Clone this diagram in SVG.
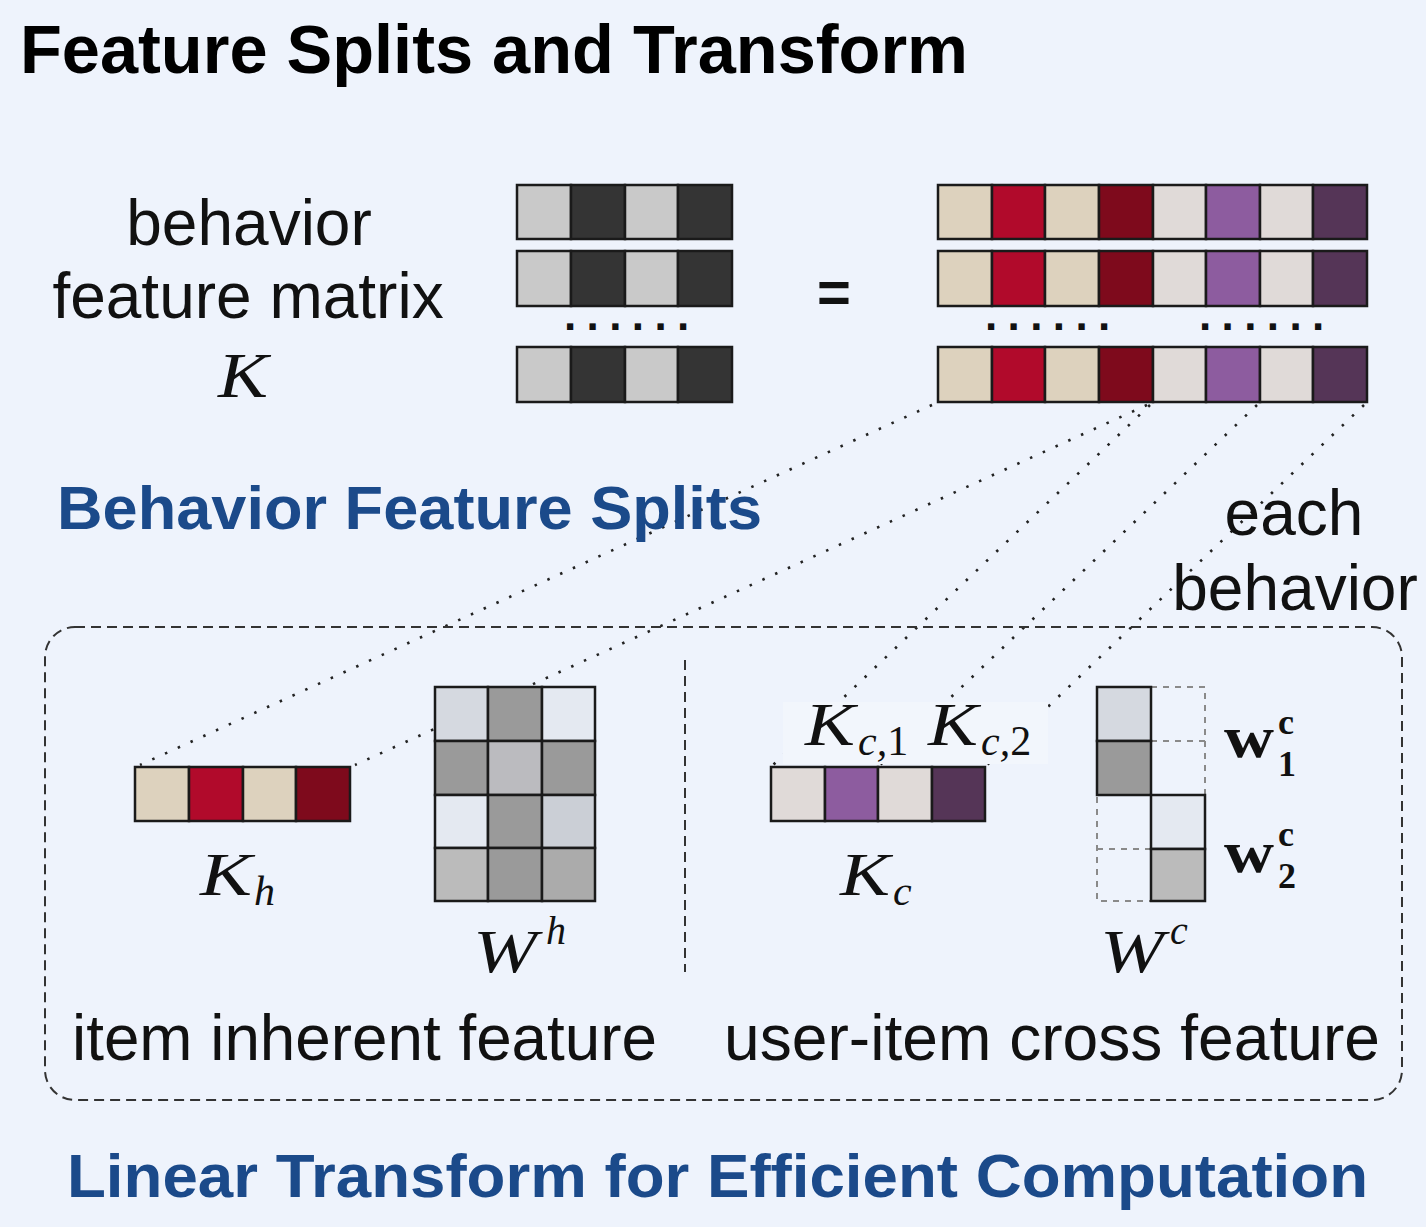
<svg xmlns="http://www.w3.org/2000/svg" width="1426" height="1227" viewBox="0 0 1426 1227">
<style>
.sans{font-family:"Liberation Sans",Arial,sans-serif;}
.lbl{font-family:"Liberation Sans",Arial,sans-serif;font-size:64px;fill:#111;}
.ttl{font-family:"Liberation Sans",Arial,sans-serif;font-weight:bold;}
.blue{fill:#1B4A8A;}
.math{font-family:"Liberation Serif","Times New Roman",serif;font-style:italic;fill:#111;}
.up{font-style:normal;}
.bmath{font-family:"Liberation Serif","Times New Roman",serif;font-weight:bold;fill:#111;}
.cell{stroke:#1a1a1a;stroke-width:2.5;}
.dot{stroke:#222;stroke-width:2.6;stroke-dasharray:2.5 11.5;fill:none;}
.dash{stroke:#333;stroke-width:2;stroke-dasharray:10 6;fill:none;}
.gdash{stroke:#8a8a8a;stroke-width:2;stroke-dasharray:6 6;fill:none;}
.ell{font-family:"Liberation Sans",Arial,sans-serif;font-weight:bold;font-size:44px;letter-spacing:10.4px;fill:#111;}
.lg{fill:#C9C9C9;} .dk{fill:#343434;}
.be{fill:#DDD2BE;} .cr{fill:#B10A2B;} .dr{fill:#7E0A1C;}
.lp{fill:#E0DAD8;} .pu{fill:#8D5C9F;} .dp{fill:#553557;}
</style>
<rect width="1426" height="1227" fill="#EEF3FC"/>

<text class="ttl" x="20" y="73" font-size="68" fill="#000" textLength="948" lengthAdjust="spacingAndGlyphs">Feature Splits and Transform</text>

<g id="label-K">
<text class="lbl" x="249" y="245" text-anchor="middle">behavior</text>
<text class="lbl" x="248" y="318" text-anchor="middle">feature matrix</text>
<text class="math" x="218" y="397" font-size="64" textLength="50" lengthAdjust="spacingAndGlyphs">K</text>
</g>

<g id="matrix-K">
<g class="cell">
<rect class="lg" x="517" y="185" width="54" height="54"/><rect class="dk" x="571" y="185" width="54" height="54"/><rect class="lg" x="625" y="185" width="53" height="54"/><rect class="dk" x="678" y="185" width="54" height="54"/>
<rect class="lg" x="517" y="251" width="54" height="55"/><rect class="dk" x="571" y="251" width="54" height="55"/><rect class="lg" x="625" y="251" width="53" height="55"/><rect class="dk" x="678" y="251" width="54" height="55"/>
<rect class="lg" x="517" y="347" width="54" height="55"/><rect class="dk" x="571" y="347" width="54" height="55"/><rect class="lg" x="625" y="347" width="53" height="55"/><rect class="dk" x="678" y="347" width="54" height="55"/>
</g>
<text class="ell" x="564" y="330">......</text>
</g>

<g id="equals">
<text class="ttl" x="834" y="312" font-size="58" text-anchor="middle" fill="#111">=</text>
</g>

<g id="matrix-split">
<g class="cell">
<rect class="be" x="938" y="185" width="54" height="54"/><rect class="cr" x="992" y="185" width="53" height="54"/><rect class="be" x="1045" y="185" width="54" height="54"/><rect class="dr" x="1099" y="185" width="54" height="54"/><rect class="lp" x="1153" y="185" width="53" height="54"/><rect class="pu" x="1206" y="185" width="54" height="54"/><rect class="lp" x="1260" y="185" width="53" height="54"/><rect class="dp" x="1313" y="185" width="54" height="54"/>
<rect class="be" x="938" y="251" width="54" height="55"/><rect class="cr" x="992" y="251" width="53" height="55"/><rect class="be" x="1045" y="251" width="54" height="55"/><rect class="dr" x="1099" y="251" width="54" height="55"/><rect class="lp" x="1153" y="251" width="53" height="55"/><rect class="pu" x="1206" y="251" width="54" height="55"/><rect class="lp" x="1260" y="251" width="53" height="55"/><rect class="dp" x="1313" y="251" width="54" height="55"/>
<rect class="be" x="938" y="347" width="54" height="55"/><rect class="cr" x="992" y="347" width="53" height="55"/><rect class="be" x="1045" y="347" width="54" height="55"/><rect class="dr" x="1099" y="347" width="54" height="55"/><rect class="lp" x="1153" y="347" width="53" height="55"/><rect class="pu" x="1206" y="347" width="54" height="55"/><rect class="lp" x="1260" y="347" width="53" height="55"/><rect class="dp" x="1313" y="347" width="54" height="55"/>
</g>
<text class="ell" x="985" y="330">......</text>
<text class="ell" x="1199" y="330">......</text>
</g>

<g id="connectors">
<line class="dot" x1="932" y1="405" x2="140" y2="765"/>
<line class="dot" x1="1147" y1="405" x2="355" y2="765"/>
<line class="dot" x1="1150" y1="405" x2="773" y2="765"/>
<line class="dot" x1="1257" y1="405" x2="880" y2="765"/>
<line class="dot" x1="1364" y1="405" x2="987" y2="765"/>
</g>

<text class="ttl blue" x="57" y="529" font-size="62" textLength="705" lengthAdjust="spacingAndGlyphs">Behavior Feature Splits</text>

<g id="each-behavior">
<text class="lbl" x="1294" y="535" text-anchor="middle">each</text>
<text class="lbl" x="1295" y="610" text-anchor="middle">behavior</text>
</g>

<g id="transform-box">
<rect class="dash" x="45" y="627" width="1357" height="473" rx="30" ry="30"/>
<line class="dash" x1="685" y1="660" x2="685" y2="972"/>
</g>

<g id="Kh">
<g class="cell">
<rect class="be" x="135" y="767" width="54" height="54"/><rect class="cr" x="189" y="767" width="54" height="54"/><rect class="be" x="243" y="767" width="53" height="54"/><rect class="dr" x="296" y="767" width="54" height="54"/>
</g>
<text class="math" x="200" y="895" font-size="62" textLength="52" lengthAdjust="spacingAndGlyphs">K</text>
<text class="math" x="254" y="905" font-size="42">h</text>
</g>

<g id="Wh">
<g class="cell">
<rect fill="#D5D9E0" x="435" y="687" width="53" height="54"/><rect fill="#9A9A9A" x="488" y="687" width="54" height="54"/><rect fill="#E4E9F1" x="542" y="687" width="53" height="54"/>
<rect fill="#9A9A9A" x="435" y="741" width="53" height="54"/><rect fill="#BBBBBF" x="488" y="741" width="54" height="54"/><rect fill="#9A9A9A" x="542" y="741" width="53" height="54"/>
<rect fill="#E4E9F1" x="435" y="795" width="53" height="53"/><rect fill="#9A9A9A" x="488" y="795" width="54" height="53"/><rect fill="#CBCFD6" x="542" y="795" width="53" height="53"/>
<rect fill="#BBBBBB" x="435" y="848" width="53" height="53"/><rect fill="#9A9A9A" x="488" y="848" width="54" height="53"/><rect fill="#ABABAB" x="542" y="848" width="53" height="53"/>
</g>
<text class="math" x="473" y="972" font-size="62" textLength="64" lengthAdjust="spacingAndGlyphs">W</text>
<text class="math" x="546" y="944" font-size="40">h</text>
</g>

<g id="Kc">
<rect x="783" y="702" width="265" height="62" fill="#F2F6FC"/>
<text class="math" x="805" y="745" font-size="62" textLength="50" lengthAdjust="spacingAndGlyphs">K</text>
<text class="math" x="858" y="755" font-size="42">c,<tspan class="up">1</tspan></text>
<text class="math" x="928" y="745" font-size="62" textLength="50" lengthAdjust="spacingAndGlyphs">K</text>
<text class="math" x="981" y="755" font-size="42">c,<tspan class="up">2</tspan></text>
<g class="cell">
<rect class="lp" x="771" y="767" width="54" height="54"/><rect class="pu" x="825" y="767" width="53" height="54"/><rect class="lp" x="878" y="767" width="54" height="54"/><rect class="dp" x="932" y="767" width="53" height="54"/>
</g>
<text class="math" x="840" y="895" font-size="62" textLength="50" lengthAdjust="spacingAndGlyphs">K</text>
<text class="math" x="893" y="905" font-size="42">c</text>
</g>

<g id="Wc">
<rect class="gdash" x="1151" y="687" width="54" height="108"/>
<line class="gdash" x1="1151" y1="741" x2="1205" y2="741"/>
<rect class="gdash" x="1097" y="795" width="54" height="106"/>
<line class="gdash" x1="1097" y1="849" x2="1151" y2="849"/>
<g class="cell">
<rect fill="#D5D9E0" x="1097" y="687" width="54" height="54"/><rect fill="#9A9A9A" x="1097" y="741" width="54" height="54"/>
<rect fill="#E4E9F1" x="1151" y="795" width="54" height="54"/><rect fill="#BBBBBB" x="1151" y="849" width="54" height="52"/>
</g>
<text class="bmath" x="1224" y="757" font-size="60" textLength="50" lengthAdjust="spacingAndGlyphs">w</text>
<text class="bmath" x="1278" y="734" font-size="36">c</text>
<text class="bmath" x="1278" y="776" font-size="36">1</text>
<text class="bmath" x="1224" y="872" font-size="60" textLength="50" lengthAdjust="spacingAndGlyphs">w</text>
<text class="bmath" x="1278" y="846" font-size="36">c</text>
<text class="bmath" x="1278" y="888" font-size="36">2</text>
<text class="math" x="1100" y="972" font-size="62" textLength="64" lengthAdjust="spacingAndGlyphs">W</text>
<text class="math" x="1170" y="944" font-size="40">c</text>
</g>

<text class="lbl" x="72" y="1060" textLength="585" lengthAdjust="spacingAndGlyphs">item inherent feature</text>
<text class="lbl" x="724" y="1060" textLength="656" lengthAdjust="spacingAndGlyphs">user-item cross feature</text>

<text class="ttl blue" x="67" y="1197" font-size="62" textLength="1301" lengthAdjust="spacingAndGlyphs">Linear Transform for Efficient Computation</text>
</svg>
